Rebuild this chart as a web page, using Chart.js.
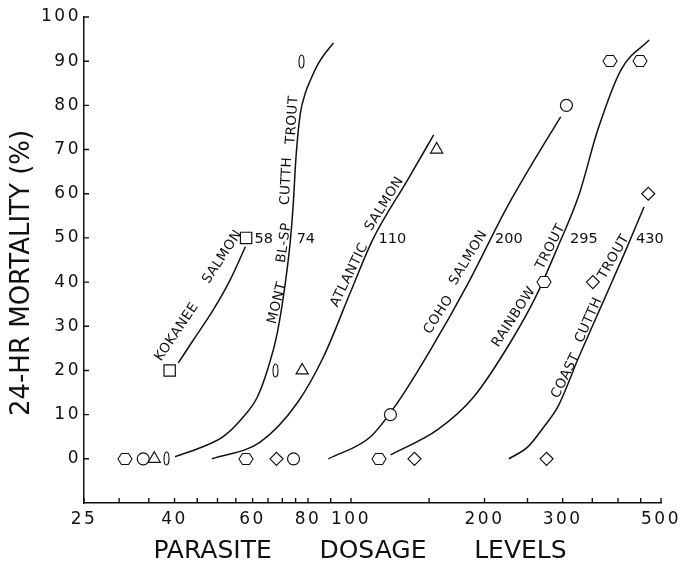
<!DOCTYPE html>
<html>
<head>
<meta charset="utf-8">
<script src="https://cdn.jsdelivr.net/npm/chart.js@4.4.1/dist/chart.umd.min.js"></script>
<style>
  html, body { margin: 0; padding: 0; background: #fff; }
  #wrap { width: 685px; height: 561px; }
</style>
</head>
<body>
<div id="wrap"><canvas id="chart"></canvas></div>
<script>
// axis ticks
const xTickValues = [25, 30, 35, 40, 45, 50, 55, 60, 65, 70, 75, 80, 90, 100, 150, 200, 250, 300, 350, 400, 450, 500];
const xTickLabels = [25, 40, 60, 80, 100, 200, 300, 500];
const yTickValues = [0, 10, 20, 30, 40, 50, 60, 70, 80, 90, 100];

// observed mortality (%) at each parasite dose
const kokaneeDose  = [39, 58];
const kokaneeMort  = [20, 50];
const montDose     = [38.3, 67.5, 77.4];
const montMort     = [0, 20, 90];
const atlanticDose = [36, 77.6, 156];
const atlanticMort = [0, 20, 70];
const cohoDose     = [34, 74.2, 122.7, 306];
const cohoMort     = [0, 0, 10, 80];
const rainbowDose  = [30.9, 58, 115.8, 272, 384, 449];
const rainbowMort  = [0, 0, 0, 40, 90, 90];
const coastDose    = [67.9, 139, 276, 351, 468];
const coastMort    = [0, 0, 0, 40, 60];

// fitted curves
const kokaneeCurveDose  = [40.8, 44.1, 48.9, 53.4, 57.8];
const kokaneeCurveMort  = [21.7, 26.9, 33.7, 40.5, 48.0];
const montCurveDose     = [40.1, 45.7, 51.5, 57.2, 61.5, 64.8, 68.2, 71.1, 73.0, 74.2, 74.9, 75.7, 76.9, 78.9, 81.0, 84.0, 87.6, 91.3];
const montCurveMort     = [0.5, 2.5, 5.0, 9.5, 14.0, 20.1, 28.5, 39.8, 49.5, 58.6, 66.1, 72.2, 78.3, 82.8, 85.7, 89.1, 91.9, 94.1];
const atlanticCurveDose = [48.6, 62.4, 75.7, 86.7, 99.8, 111.8, 134.1, 153.6];
const atlanticCurveMort = [0, 3.8, 12.7, 23.1, 37.8, 49.5, 63.1, 73.3];
const cohoCurveDose     = [88.9, 110.7, 127.3, 151.2, 184.3, 223, 268, 297];
const cohoCurveMort     = [0, 5.0, 12.7, 24.7, 40.0, 56.3, 70.1, 77.4];
const rainbowCurveDose  = [122.8, 156.8, 189, 229.2, 261, 292.7, 326.5, 360, 406, 470];
const rainbowCurveMort  = [0.9, 6.6, 14.0, 26.5, 36.7, 48.0, 59.7, 74.4, 88.0, 94.8];
const coastCurveDose    = [227, 250.4, 272, 292.7, 326.5, 366, 416.8, 457.8];
const coastCurveMort    = [0, 2.7, 7.2, 11.8, 23.1, 34.4, 47.3, 57.0];

// LD50 of each species
const ld50 = [58, 74, 110, 200, 295, 430];

const INK = '#111';

function pts(xs, ys) {
  return xs.map((x, i) => ({ x, y: ys[i] }));
}

// custom point shapes (hexagon, narrow ellipse) as small canvases
function markerImage(cw, ch, path) {
  const c = document.createElement('canvas');
  c.width = cw; c.height = ch;
  const g = c.getContext('2d');
  g.beginPath();
  path(g, cw / 2, ch / 2);
  g.fillStyle = '#fff'; g.fill();
  g.lineWidth = 1.1; g.strokeStyle = INK; g.stroke();
  return c;
}

const hexagon = markerImage(18, 16, (g, cx, cy) => {
  const rx = 7, ry = 5.5;
  g.moveTo(cx - rx, cy);
  g.lineTo(cx - rx / 2, cy - ry);
  g.lineTo(cx + rx / 2, cy - ry);
  g.lineTo(cx + rx, cy);
  g.lineTo(cx + rx / 2, cy + ry);
  g.lineTo(cx - rx / 2, cy + ry);
  g.closePath();
});
const ellipse = markerImage(9, 17, (g, cx, cy) => {
  g.ellipse(cx, cy, 2.5, 6.5, 0, 0, Math.PI * 2);
});

const species = [
  { dose: kokaneeDose,  mort: kokaneeMort,  cDose: kokaneeCurveDose,  cMort: kokaneeCurveMort,  style: 'rect',     radius: 8 },
  { dose: montDose,     mort: montMort,     cDose: montCurveDose,     cMort: montCurveMort,     style: ellipse,    radius: 6 },
  { dose: atlanticDose, mort: atlanticMort, cDose: atlanticCurveDose, cMort: atlanticCurveMort, style: 'triangle', radius: 7 },
  { dose: cohoDose,     mort: cohoMort,     cDose: cohoCurveDose,     cMort: cohoCurveMort,     style: 'circle',   radius: 6 },
  { dose: rainbowDose,  mort: rainbowMort,  cDose: rainbowCurveDose,  cMort: rainbowCurveMort,  style: hexagon,    radius: 6 },
  { dose: coastDose,    mort: coastMort,    cDose: coastCurveDose,    cMort: coastCurveMort,    style: 'rectRot',  radius: 6.5 },
];

const datasets = [];
species.forEach(s => {
  datasets.push({
    data: pts(s.dose, s.mort),
    pointStyle: s.style,
    pointRadius: s.radius,
    pointBackgroundColor: '#fff',
    pointBorderColor: INK,
    pointBorderWidth: 1.2,
    showLine: false,
    order: 0,
  });
  datasets.push({
    data: pts(s.cDose, s.cMort),
    showLine: true,
    borderColor: INK,
    borderWidth: 1.5,
    pointRadius: 0,
    cubicInterpolationMode: 'monotone',
    fill: false,
    order: 1,
  });
});

// labels along the curves (x = dose, y = mortality of the text centre)
const curveLabels = [
  { text: 'KOKANEE',  x: 40.5,  y: 28.7, angle: -56 },
  { text: 'SALMON',   x: 51.3,  y: 45.7, angle: -57 },
  { text: 'MONT',     x: 68.2,  y: 35.3, angle: -76 },
  { text: 'BL-SP',    x: 70.7,  y: 48.9, angle: -82 },
  { text: 'CUTTH',    x: 71.5,  y: 62.9, angle: -87 },
  { text: 'TROUT',    x: 73.8,  y: 76.7, angle: -86 },
  { text: 'ATLANTIC', x: 99.2,  y: 41.6, angle: -64 },
  { text: 'SALMON',   x: 119,   y: 57.7, angle: -58 },
  { text: 'COHO',     x: 157.6, y: 32.6, angle: -57 },
  { text: 'SALMON',   x: 184,   y: 45.5, angle: -59 },
  { text: 'RAINBOW',  x: 233,   y: 32.1, angle: -57 },
  { text: 'TROUT',    x: 282,   y: 48,   angle: -63 },
  { text: 'COAST',    x: 305,   y: 18.8, angle: -64 },
  { text: 'CUTTH',    x: 343.8, y: 31.4, angle: -66 },
  { text: 'TROUT',    x: 391.7, y: 45.7, angle: -60 },
];
const ld50LabelX = [63.6, 79.1, 124, 227, 335, 472];

function drawText(ctx, text, px, py, angle, font, spacing) {
  ctx.save();
  ctx.translate(px, py);
  ctx.rotate(angle * Math.PI / 180);
  ctx.font = font;
  ctx.letterSpacing = spacing;
  ctx.fillStyle = INK;
  ctx.textAlign = 'center';
  ctx.textBaseline = 'middle';
  ctx.fillText(text, 0, 0);
  ctx.restore();
}

const figurePlugin = {
  id: 'figure',
  beforeDraw(chart) {
    chart.ctx.letterSpacing = '2.5px';
  },
  beforeDatasetsDraw(chart) {
    const { ctx, scales: { x, y } } = chart;
    ctx.letterSpacing = '0px';
    // nearest-neighbour blit keeps the canvas markers crisp
    ctx.imageSmoothingEnabled = false;
    // inward tick marks
    ctx.save();
    ctx.strokeStyle = INK;
    ctx.lineWidth = 1.4;
    ctx.beginPath();
    x.ticks.forEach(t => {
      const px = x.getPixelForValue(t.value);
      ctx.moveTo(px, y.bottom);
      ctx.lineTo(px, y.bottom - 5);
    });
    y.ticks.forEach(t => {
      const py = y.getPixelForValue(t.value);
      ctx.moveTo(x.left, py);
      ctx.lineTo(x.left + 5, py);
    });
    ctx.stroke();
    ctx.restore();
  },
  afterDraw(chart) {
    const { ctx, scales: { x, y } } = chart;
    curveLabels.forEach(l => {
      drawText(ctx, l.text, x.getPixelForValue(l.x), y.getPixelForValue(l.y), l.angle, '13.5px "DejaVu Sans"', '0.5px');
    });
    ld50.forEach((v, i) => {
      drawText(ctx, String(v), x.getPixelForValue(ld50LabelX[i]), y.getPixelForValue(49.8), 0, '14.5px "DejaVu Sans"', '0px');
    });
    // axis titles
    drawText(ctx, '24-HR MORTALITY (%)', 22, 273, -90, '26px "DejaVu Sans"', '0px');
    drawText(ctx, 'PARASITE      DOSAGE      LEVELS', 360, 551, 0, '25px "DejaVu Sans"', '0px');
  },
};

Chart.defaults.font.family = '"DejaVu Sans"';
Chart.defaults.color = INK;

new Chart(document.getElementById('chart'), {
  type: 'scatter',
  data: { datasets },
  options: {
    responsive: true,
    maintainAspectRatio: false,
    animation: false,
    layout: { padding: { top: 17, right: 24, bottom: 0, left: 0 } },
    plugins: { legend: { display: false }, tooltip: { enabled: false } },
    scales: {
      x: {
        type: 'logarithmic',
        min: 25,
        max: 500,
        afterBuildTicks: s => { s.ticks = xTickValues.map(v => ({ value: v })); },
        afterFit: s => { s.height = 58; },
        ticks: {
          autoSkip: false,
          maxRotation: 0,
          padding: 6,
          font: { size: 17 },
          callback: v => (xTickLabels.includes(v) ? String(v) : ''),
        },
        grid: { display: false, drawTicks: false },
        border: { display: true, color: INK, width: 1.5 },
      },
      y: {
        type: 'linear',
        min: -10,
        max: 100,
        afterBuildTicks: s => { s.ticks = yTickValues.map(v => ({ value: v })); },
        afterFit: s => { s.width = 84; },
        ticks: {
          padding: 3,
          font: { size: 17 },
          callback: v => String(v),
        },
        grid: { display: false, drawTicks: false },
        border: { display: true, color: INK, width: 1.5 },
      },
    },
  },
  plugins: [figurePlugin],
});
</script>
</body>
</html>
